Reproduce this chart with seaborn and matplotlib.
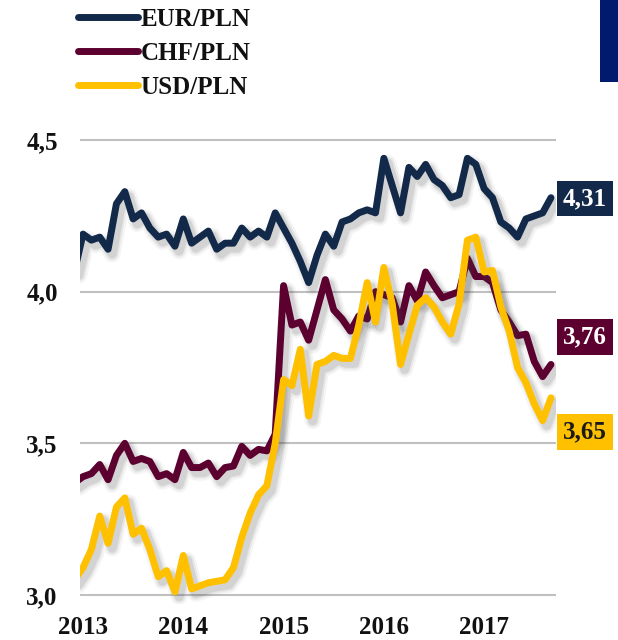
import matplotlib.pyplot as plt
import matplotlib.patheffects as pe
from matplotlib.lines import Line2D
from matplotlib.patches import Rectangle
import numpy as np
import pandas as pd
import seaborn as sns

sns.set_style('white')
plt.rcParams['font.family'] = ['Liberation Serif', 'DejaVu Serif']
plt.rcParams['font.weight'] = 'bold'

# monthly averages, Dec 2012 - Sep 2017
dates = pd.date_range('2012-12-01', '2017-09-01', freq='MS')

eur_pln = [4.07, 4.19, 4.17, 4.18, 4.14, 4.29, 4.33, 4.24, 4.26, 4.21, 4.18, 4.19, 4.15,
           4.24, 4.16, 4.18, 4.20, 4.14, 4.16, 4.16, 4.21, 4.18, 4.20, 4.18, 4.26,
           4.21, 4.16, 4.10, 4.03, 4.12, 4.19, 4.15, 4.23, 4.24, 4.26, 4.27, 4.26,
           4.44, 4.35, 4.26, 4.41, 4.38, 4.42, 4.37, 4.35, 4.31, 4.32, 4.44, 4.42,
           4.34, 4.31, 4.23, 4.21, 4.18, 4.24, 4.25, 4.26, 4.31]
chf_pln = [3.37, 3.39, 3.40, 3.43, 3.38, 3.46, 3.50, 3.44, 3.45, 3.44, 3.39, 3.40, 3.38,
           3.47, 3.42, 3.42, 3.435, 3.39, 3.42, 3.425, 3.49, 3.46, 3.48, 3.475, 3.53,
           4.02, 3.89, 3.90, 3.84, 3.94, 4.04, 3.94, 3.91, 3.87, 3.92, 3.91, 4.00,
           3.99, 3.98, 3.90, 4.02, 3.97, 4.065, 4.02, 3.98, 3.99, 4.00, 4.11, 4.05,
           4.05, 4.03, 3.94, 3.90, 3.855, 3.86, 3.77, 3.72, 3.76]
usd_pln = [3.05, 3.09, 3.15, 3.26, 3.17, 3.29, 3.32, 3.20, 3.22, 3.15, 3.06, 3.08, 3.01,
           3.13, 3.02, 3.03, 3.04, 3.045, 3.05, 3.09, 3.19, 3.27, 3.33, 3.36, 3.50,
           3.71, 3.69, 3.81, 3.59, 3.76, 3.77, 3.79, 3.78, 3.78, 3.89, 4.03, 3.90,
           4.08, 3.96, 3.76, 3.86, 3.955, 3.98, 3.95, 3.90, 3.86, 3.96, 4.17, 4.18,
           4.065, 4.07, 3.95, 3.87, 3.75, 3.70, 3.63, 3.575, 3.65]

pairs = ['EUR/PLN', 'CHF/PLN', 'USD/PLN']
colors = ['#12294a', '#5c0030', '#ffc000']
label_text_colors = ['white', 'white', '#1a1a1a']
label_y = [4.307, 3.851, 3.538]  # where the end-value boxes sit
years = [2013, 2014, 2015, 2016, 2017]
y_ticks = [3.0, 3.5, 4.0, 4.5]

# month index relative to Jan 2013
month_idx = (dates.year - 2013) * 12 + dates.month - 1
df = pd.DataFrame({
    'month': np.tile(month_idx, 3),
    'rate': eur_pln + chf_pln + usd_pln,
    'pair': np.repeat(pairs, len(dates)),
})

fig = plt.figure(figsize=(6.18, 6.40), dpi=100)
ax = fig.add_axes([80 / 618, 1 - 604 / 640, 476 / 618, 473 / 640])

sns.lineplot(data=df, x='month', y='rate', hue='pair', hue_order=pairs,
             palette=colors, linewidth=5, legend=False, ax=ax)

# soft drop shadow: a few wide, faint offset copies under each line
shadow = [pe.SimpleLineShadow(offset=(3, -3.5), shadow_color='#444444', alpha=a, rho=1, linewidth=w)
          for w, a in [(12, 0.05), (9, 0.08), (6.5, 0.12)]]
for line in ax.lines:
    line.set_solid_capstyle('round')
    line.set_solid_joinstyle('round')
    line.set_path_effects(shadow + [pe.Normal()])

ax.set_xlim(-0.36, 56.6)
ax.set_ylim(2.97, 4.53)
ax.set_xticks([(y - 2013) * 12 for y in years])
ax.set_xticklabels([str(y) for y in years])
ax.set_yticks(y_ticks)
ax.set_yticklabels([f'{v:.1f}'.replace('.', ',') for v in y_ticks])
ax.tick_params(axis='both', length=0, labelsize=18, labelcolor='#111111')
ax.tick_params(axis='y', pad=16)
ax.tick_params(axis='x', pad=9)
ax.set_xlabel('')
ax.set_ylabel('')
ax.yaxis.grid(True, color='#c0c0c0', linewidth=1.5)
ax.xaxis.grid(False)
for s in ax.spines.values():
    s.set_visible(False)

# end-value boxes
last_vals = [eur_pln[-1], chf_pln[-1], usd_pln[-1]]
for v, ly, c, tc in zip(last_vals, label_y, colors, label_text_colors):
    ax.text(1.107, ly, f'{v:.2f}'.replace('.', ','), transform=ax.get_yaxis_transform(),
            ha='right', va='center', fontsize=18, fontweight='bold', color=tc,
            bbox=dict(boxstyle='square,pad=0.25', facecolor=c, edgecolor='none'),
            clip_on=False)

handles = [Line2D([0], [0], color=c, linewidth=5, solid_capstyle='round') for c in colors]
fig.legend(handles, pairs, loc='upper left', bbox_to_anchor=(78 / 618, 1 - 8 / 640),
           frameon=False, fontsize=18, handlelength=2.4, handletextpad=0.1,
           labelspacing=0.44, borderpad=0, borderaxespad=0, labelcolor='#111111')

fig.patches.append(Rectangle((600 / 618, 1 - 82 / 640), 18 / 618, 82 / 640,
                             transform=fig.transFigure, facecolor='#001a6e',
                             edgecolor='none'))

plt.savefig('out.png', dpi=100)
